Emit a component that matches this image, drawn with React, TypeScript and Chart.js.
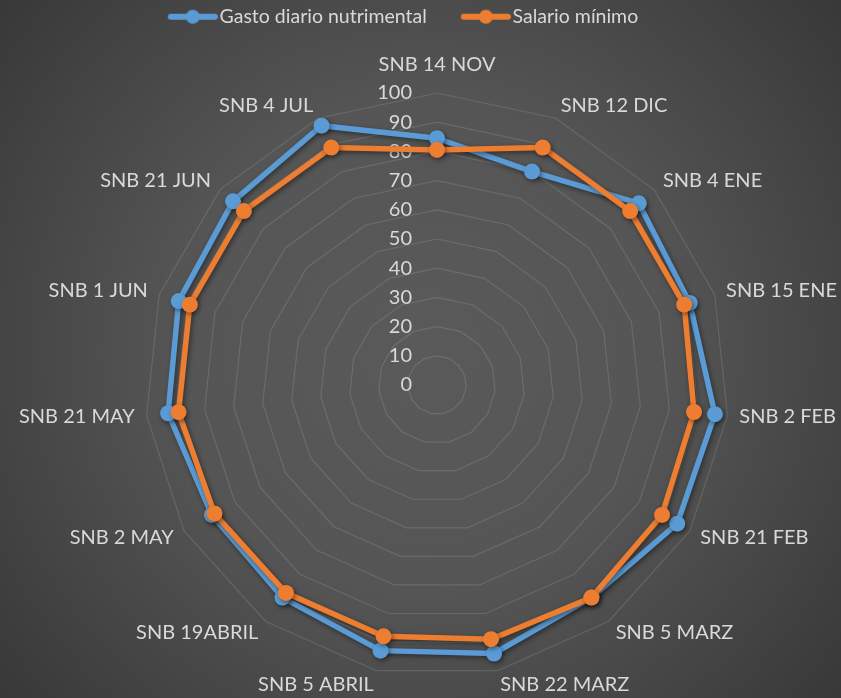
import React, { useEffect, useRef } from 'react';
import { Chart, registerables } from 'chart.js';

Chart.register(...registerables);

const categories = [
  'SNB 14 NOV', 'SNB 12 DIC', 'SNB 4 ENE', 'SNB 15 ENE', 'SNB 2 FEB',
  'SNB 21 FEB', 'SNB 5 MARZ', 'SNB 22 MARZ', 'SNB 5 ABRIL', 'SNB 19ABRIL',
  'SNB 2 MAY', 'SNB 21 MAY', 'SNB 1 JUN', 'SNB 21 JUN', 'SNB 4 JUL',
];
const gastoDiario = [84.5, 80, 93, 91, 95.7, 95, 90, 94, 93, 90, 89, 92.6, 93, 94, 97.2];
const salarioMinimo = [80.5, 89, 89, 89, 88.5, 89, 90, 89, 88, 88, 88, 89, 89, 89, 89];
const seriesNames = ['Gasto diario nutrimental', 'Salario mínimo'];
const seriesColors = ['#5B9BD5', '#ED7D31'];
const tickValues = [0, 10, 20, 30, 40, 50, 60, 70, 80, 90, 100];

const FONT = 'Lato, "Open Sans", sans-serif';
const TEXT_COLOR = '#d9d9d9';
const LABEL_SIZE = 20;
const TICK_SIZE = 20;
const LEGEND_SIZE = 19.5;

function makeLegendImage(color: string): HTMLCanvasElement {
  const c = document.createElement('canvas');
  c.width = 85;
  c.height = 20;
  const g = c.getContext('2d')!;
  g.strokeStyle = color;
  g.lineWidth = 6;
  g.lineCap = 'round';
  g.beginPath();
  g.moveTo(38, 10);
  g.lineTo(82, 10);
  g.stroke();
  g.fillStyle = color;
  g.beginPath();
  g.arc(60, 10, 7, 0, Math.PI * 2);
  g.fill();
  return c;
}

const backgroundPlugin = {
  id: 'bgGradient',
  beforeDraw(chart: any) {
    const { ctx, width, height } = chart;
    const g = ctx.createRadialGradient(width / 2, height / 2, 0, width / 2, height / 2, Math.hypot(width / 2, height / 2));
    g.addColorStop(0, '#5a5a5a');
    g.addColorStop(0.45, '#555555');
    g.addColorStop(1, '#383838');
    ctx.save();
    ctx.fillStyle = g;
    ctx.fillRect(0, 0, width, height);
    ctx.restore();
  },
};

const tickLabelPlugin = {
  id: 'tickLabels',
  beforeDatasetsDraw(chart: any) {
    const s = chart.scales.r;
    const ctx = chart.ctx;
    ctx.save();
    ctx.font = `${TICK_SIZE}px ${FONT}`;
    ctx.fillStyle = TEXT_COLOR;
    ctx.textAlign = 'right';
    ctx.textBaseline = 'middle';
    tickValues.forEach((v) => {
      const y = s.yCenter - s.getDistanceFromCenterForValue(v);
      ctx.fillText(String(v), s.xCenter - 25, y);
    });
    ctx.restore();
  },
};

const shadowPlugin = {
  id: 'lineShadow',
  beforeDatasetsDraw(chart: any) {
    const ctx = chart.ctx;
    ctx.save();
    ctx.shadowColor = 'rgba(0,0,0,0.45)';
    ctx.shadowBlur = 5;
    ctx.shadowOffsetX = 1.5;
    ctx.shadowOffsetY = 2;
  },
  afterDatasetsDraw(chart: any) {
    chart.ctx.restore();
  },
};

const pointLabelPlugin = {
  id: 'pointLabelsCustom',
  afterDatasetsDraw(chart: any) {
    const s = chart.scales.r;
    const ctx = chart.ctx;
    const labels: string[] = chart.data.labels;
    const n = labels.length;
    const h = LABEL_SIZE;
    ctx.save();
    ctx.font = `${LABEL_SIZE}px ${FONT}`;
    ctx.fillStyle = TEXT_COLOR;
    ctx.textBaseline = 'middle';
    labels.forEach((lab, i) => {
      const p = s.getPointPosition(i, s.drawingArea + 12);
      const deg = (i * 360) / n;
      const rad = (deg * Math.PI) / 180;
      ctx.textAlign = deg === 0 || deg === 180 ? 'center' : deg < 180 ? 'left' : 'right';
      let y = p.y - Math.cos(rad) * h * 0.1;
      if (deg === 0) y = p.y - h / 2 - 6;
      ctx.fillText(lab, p.x, y);
    });
    ctx.restore();
  },
};

export default function App() {
  const ref = useRef<HTMLCanvasElement | null>(null);

  useEffect(() => {
    if (!ref.current) return;
    const images = seriesColors.map((c) => makeLegendImage(c));
    const chart = new Chart(ref.current, {
      type: 'radar',
      data: {
        labels: categories,
        datasets: [
          {
            label: seriesNames[0],
            data: gastoDiario,
            borderColor: seriesColors[0],
            backgroundColor: seriesColors[0],
            pointBackgroundColor: seriesColors[0],
            pointBorderColor: seriesColors[0],
            borderWidth: 5.5,
            pointRadius: 8,
            pointBorderWidth: 0,
            fill: false,
            order: 1,
          },
          {
            label: seriesNames[1],
            data: salarioMinimo,
            borderColor: seriesColors[1],
            backgroundColor: seriesColors[1],
            pointBackgroundColor: seriesColors[1],
            pointBorderColor: seriesColors[1],
            borderWidth: 5.5,
            pointRadius: 8,
            pointBorderWidth: 0,
            fill: false,
            order: 0,
          },
        ],
      },
      options: {
        responsive: false,
        animation: false,
        devicePixelRatio: 1,
        layout: { padding: { top: 0, right: 62 } },
        plugins: {
          tooltip: { enabled: false },
          legend: {
            position: 'top',
            labels: {
              usePointStyle: true,
              pointStyleWidth: 69,
              padding: 7,
              color: TEXT_COLOR,
              font: { family: FONT, size: LEGEND_SIZE },
              generateLabels: (ch: any) =>
                ch.data.datasets.map((ds: any, i: number) => ({
                  text: ds.label,
                  pointStyle: images[i],
                  fillStyle: 'transparent',
                  strokeStyle: 'transparent',
                  lineWidth: 0,
                  hidden: false,
                  datasetIndex: i,
                  fontColor: TEXT_COLOR,
                })),
            },
          },
        },
        scales: {
          r: {
            min: 0,
            max: 100,
            ticks: { stepSize: 10, display: false },
            grid: { color: 'rgba(255,255,255,0.12)', lineWidth: 1.2 },
            angleLines: { display: false },
            pointLabels: { display: false },
            afterFit: (s: any) => {
              s.xCenter = 437;
              s.yCenter = 385;
              s.drawingArea = 292;
            },
          },
        },
      } as any,
      plugins: [backgroundPlugin, tickLabelPlugin, shadowPlugin, pointLabelPlugin],
    });
    return () => chart.destroy();
  }, []);

  return (
    <div style={{ position: 'absolute', left: 0, top: 0, width: 841, height: 698 }}>
      <canvas ref={ref} width={841} height={698} />
    </div>
  );
}
